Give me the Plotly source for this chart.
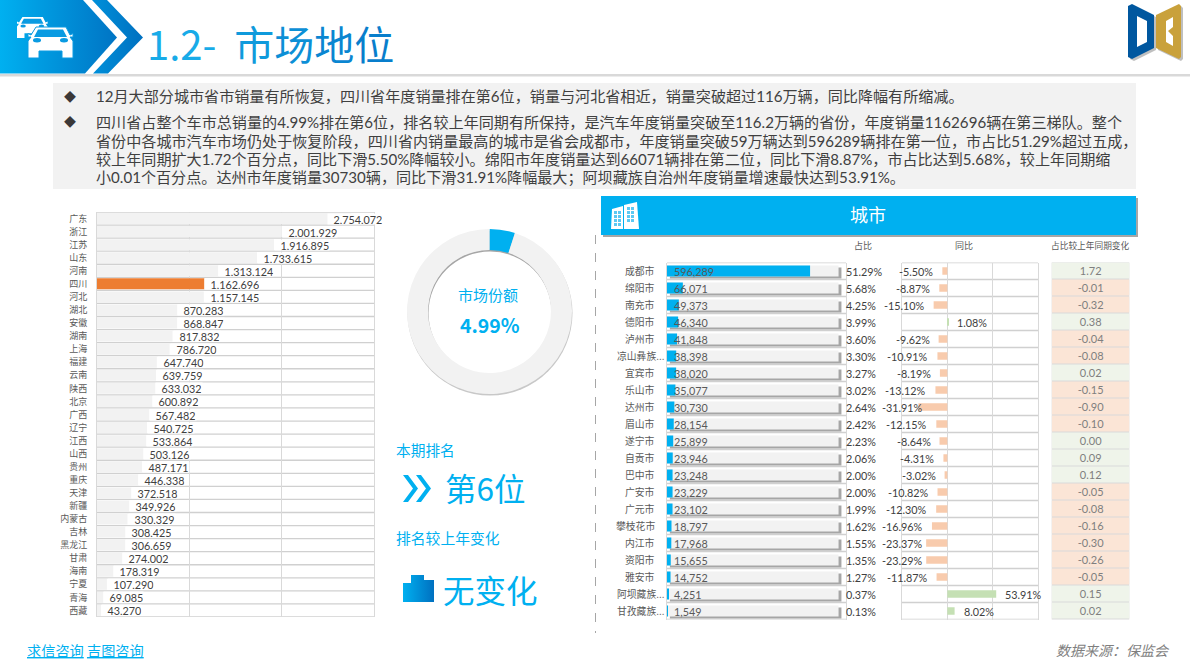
#!/usr/bin/python3

import plotly.graph_objects as go

FONT = 'Noto Sans CJK SC'
NUM_FONT = 'Lato, Noto Sans CJK SC'
BLUE = '#00B0F0'
GRID = '#D9D9D9'
TEXT = '#404040'
W, H = 1190, 669

# Provinces
provinces = ['广东', '浙江', '江苏', '山东', '河南', '四川', '河北', '湖北', '安徽', '湖南', '上海',
             '福建', '云南', '陕西', '北京', '广西', '辽宁', '江西', '山西', '贵州', '重庆', '天津',
             '新疆', '内蒙古', '吉林', '黑龙江', '甘肃', '海南', '宁夏', '青海', '西藏']
province_sales = [2754072, 2001929, 1916895, 1733615, 1313124, 1162696, 1157145, 870283, 868847,
                  817832, 786720, 647740, 639759, 633032, 600892, 567482, 540725, 533864, 503126,
                  487171, 446338, 372518, 349926, 330329, 308425, 306659, 274002, 178319, 107290,
                  69085, 43270]

# Cities
cities = ['成都市', '绵阳市', '南充市', '德阳市', '泸州市', '凉山彝族...', '宜宾市', '乐山市', '达州市',
          '眉山市', '遂宁市', '自贡市', '巴中市', '广安市', '广元市', '攀枝花市', '内江市', '资阳市',
          '雅安市', '阿坝藏族...', '甘孜藏族...']
city_sales = [596289, 66071, 49373, 46340, 41848, 38398, 38020, 35077, 30730, 28154, 25899, 23946,
              23248, 23229, 23102, 18797, 17968, 15655, 14752, 4251, 1549]
city_share = [51.29, 5.68, 4.25, 3.99, 3.60, 3.30, 3.27, 3.02, 2.64, 2.42, 2.23, 2.06, 2.00, 2.00,
              1.99, 1.62, 1.55, 1.35, 1.27, 0.37, 0.13]
city_yoy = [-5.50, -8.87, -15.10, 1.08, -9.62, -10.91, -8.19, -13.12, -31.91, -12.15, -8.64, -4.31,
            -3.02, -10.82, -12.30, -16.96, -23.37, -23.29, -11.87, 53.91, 8.02]
city_delta = [1.72, -0.01, -0.32, 0.38, -0.04, -0.08, 0.02, -0.15, -0.90, -0.10, 0.00, 0.09, 0.12,
              -0.05, -0.08, -0.16, -0.30, -0.26, -0.05, 0.15, 0.02]
BAR_TRACK = 715000

market_labels = ['四川', '其他']
market_share = [4.99, 95.01]

intro = ['12月大部分城市省市销量有所恢复，四川省年度销量排在第6位，销量与河北省相近，销量突破超过116万辆，同比降幅有所缩减。',
         '四川省占整个车市总销量的4.99%排在第6位，排名较上年同期有所保持，是汽车年度销量突破至116.2万辆的省份，年度销量1162696辆在第三梯队。整个',
         '省份中各城市汽车市场仍处于恢复阶段，四川省内销量最高的城市是省会成都市，年度销量突破59万辆达到596289辆排在第一位，市占比51.29%超过五成，',
         '较上年同期扩大1.72个百分点，同比下滑5.50%降幅较小。绵阳市年度销量达到66071辆排在第二位，同比下滑8.87%，市占比达到5.68%，较上年同期缩',
         '小0.01个百分点。达州市年度销量30730辆，同比下滑31.91%降幅最大；阿坝藏族自治州年度销量增速最快达到53.91%。']
intro_y = [96, 122, 140.5, 158.5, 177]

annotations = []
shapes = []


def label(x, y, text, size, color=TEXT, anchor='left', xref='x', yref='y', family=FONT, **kw):
    annotations.append(dict(x=x, y=y, xref=xref, yref=yref, text=text, showarrow=False,
                            xanchor=anchor, yanchor='middle', align=anchor,
                            font=dict(family=family, size=size, color=color), **kw))


def rect(x0, y0, x1, y1, color, layer='below'):
    shapes.append(dict(type='rect', xref='x', yref='y', x0=x0, y0=y0, x1=x1, y1=y1,
                       fillcolor=color, line_width=0, layer=layer))


def circle(cx, cy, r, color):
    shapes.append(dict(type='circle', xref='x', yref='y', x0=cx - r, y0=cy - r, x1=cx + r, y1=cy + r,
                       fillcolor=color, line_width=0, layer='below'))


def poly(points, color, layer='above', line=None):
    path = 'M' + ' L'.join(f'{x},{y}' for x, y in points) + ' Z'
    shapes.append(dict(type='path', xref='x', yref='y', path=path, fillcolor=color, layer=layer,
                       line=dict(color=line or color, width=1 if line else 0)))


def row_lines(names, xname, yname):
    # one rule on every row boundary
    for i in range(len(names) + 1):
        shapes.append(dict(type='line', xref=f'{xname} domain', yref=yname, x0=0, x1=1, y0=i - 0.5, y1=i - 0.5,
                           line=dict(color='#D0D0D0', width=1.3), layer='below'))


def gradient(points, start, end):
    xs, ys = zip(*(points + points[:1]))
    return go.Scatter(x=xs, y=ys, mode='lines', fill='toself', line=dict(width=0), hoverinfo='skip',
                      fillgradient=dict(type='horizontal', colorscale=[[0, start], [1, end]]),
                      showlegend=False, xaxis='x', yaxis='y')


def car(x, y, s, outline=None):
    body = [(8, 0), (38, 0), (42, 8), (45, 6.5), (45, 10), (42, 10), (45, 14), (45, 31), (34, 31), (34, 24),
            (11, 24), (11, 31), (0, 31), (0, 14), (3, 10), (0, 10), (0, 6.5), (3, 8)]
    poly([(x + a * s, y + b * s) for a, b in body], 'white', line=outline)
    glass = [(10, 2.5), (35, 2.5), (39, 10), (6, 10)]
    poly([(x + a * s, y + b * s) for a, b in glass], '#0A9BE2')
    for hx in (9, 36):
        shapes.append(dict(type='circle', xref='x', yref='y', layer='above', line_width=0, fillcolor='#0A9BE2',
                           x0=x + (hx - 4) * s, x1=x + (hx + 4) * s, y0=y + 11 * s, y1=y + 15.5 * s))


# Banner and other page furniture
banner = [gradient([(0, 0), (83, 0), (117, 37.5), (85, 73.5), (0, 73.5)], '#00B0F0', '#0074C4'),
          gradient([(92, 0), (107, 0), (143, 37.5), (108, 73.5), (93, 73.5), (127, 37.5)], '#0090DA', '#0070C0'),
          gradient([(403, 583), (411, 583), (411, 575), (424, 575), (424, 580), (434, 580), (434, 602), (403, 602)],
                   '#00B0F0', '#0070C0')]
rect(0, 74, W, 76.5, GRID)
rect(53, 83, 1136, 189, '#F2F2F2')
car(17, 17, 0.68)
car(28, 27, 1, outline='#0A9BE2')

# Logo
poly([(1130, 8), (1134, 6), (1156, 17), (1156, 50), (1134, 61), (1130, 59)], '#BFBFBF', 'below')
poly([(1128, 6), (1132, 4), (1154, 15), (1154, 48), (1132, 59), (1128, 57)], '#00579F', 'below')
poly([(1137, 16), (1147, 21), (1147, 42), (1137, 47)], 'white', 'below')
poly([(1158, 17), (1181, 6), (1183, 8), (1183, 59), (1181, 61), (1158, 50)], '#BFBFBF', 'below')
poly([(1156, 15), (1179, 4), (1181, 6), (1181, 57), (1179, 59), (1156, 48)], '#C9A13B', 'below')
poly([(1166, 21), (1173, 17), (1173, 27), (1168, 31), (1173, 36), (1173, 46), (1166, 42)], 'white', 'below')

# City header
rect(603, 198, 1138, 237, '#A6A6A6')
rect(601, 196, 1136, 235, BLUE)
poly([(611, 229), (612, 209), (623, 206), (623, 229)], 'white')
poly([(624, 229), (624, 205), (637, 202), (639, 229)], 'white')
for col in (614, 618):
    for row in (211, 215, 219, 223):
        rect(col, row, col + 3, row + 3, '#5CC9F3', 'above')
for col in (627, 631):
    for row in (207, 211, 215, 219):
        rect(col, row, col + 3, row + 3, '#5CC9F3', 'above')
label(868, 214, '城市', 18, 'white', 'center')

# Dashed divider
shapes.append(dict(type='line', xref='x', yref='y', x0=595.5, x1=595.5, y0=235, y1=633, layer='below',
                   line=dict(color='#A6A6A6', width=1, dash='dash')))

# Donut shadows, hole
circle(490, 313, 82.5, '#C8C8C8')
circle(489.5, 311.5, 62, '#A6A6A6')
circle(490, 313, 61.5, 'white')

# Rank icons
for x0 in (403, 416):
    poly([(x0, 475), (x0 + 5, 475), (x0 + 15, 488.5), (x0 + 5, 502), (x0, 502), (x0 + 10, 488.5)], BLUE)
rect(1051.7, 262.5, 1129.3, 619.5, GRID)

# Texts
label(145, 43, '<span style="color:#18ABE8">1.2-\u00a0\u00a0</span><span style="color:#0F9ADC">市</span>'
      '<span style="color:#0C8FD6">场</span><span style="color:#0A86D1">地</span>'
      '<span style="color:#087ECC">位</span>', 40)
for x, y in zip([70, 70], [96, 121]):
    label(x, y, '◆', 12, '#3B3838', 'center')
for y, line in zip(intro_y, intro):
    label(94, y, line, 15.1, family=NUM_FONT)
label(488, 294.5, '市场份额', 15, BLUE, 'center')
label(490, 324.5, '<b>4.99%</b>', 19.5, BLUE, 'center')
label(393.5, 449, '本期排名', 14.7, BLUE)
label(443, 487, '第6位', 31.5, BLUE)
label(393.5, 537, '排名较上年变化', 14.8, BLUE)
label(441, 589, '无变化', 31.5, BLUE)
label(25, 650, '<u>求信咨询</u> <u>吉图咨询</u>', 14.2, BLUE)
label(1172, 650, '<i>数据来源：保监会</i>', 14, '#7F7F7F', 'right')
label(863, 245, '占比', 9, '#595959', 'center')
label(964, 245, '同比', 9, '#595959', 'center')
label(1090, 245, '占比较上年同期变化', 8.7, '#595959', 'center')

# Province labels
for name, value in zip(provinces, province_sales):
    shift = -24 if value == max(province_sales) else 0
    label(value, name, f'\u00a0\u00a0{value:,}', 10.8, TEXT, xref='x2', yref='y2', xshift=shift,
          bgcolor='white', height=10, borderpad=0, family=NUM_FONT)

# City labels
for name, sales, share, yoy in zip(cities, city_sales, city_share, city_yoy):
    if name.endswith('...'):
        label(0, name, name, 9.8, '#595959', xref='x3', yref='y3', xshift=-52)
    else:
        label(0, name, name, 9.8, '#595959', 'right', xref='x3', yref='y3', xshift=-10)
    label(0, name, f'{sales:,}', 10.8, '#595959', xref='x3', yref='y3', xshift=5, family=NUM_FONT)
    label(1, name, f'{share:.2f}%', 10.8, TEXT, xref='x3 domain', yref='y3', xshift=-2, family=NUM_FONT)
    text = f'{yoy:.2f}%'
    if yoy < 0:
        label(max(yoy, -17), name, text, 10.8, TEXT, 'right', xref='x4', yref='y4', xshift=-7, family=NUM_FONT)
    else:
        label(yoy, name, text, 10.8, TEXT, xref='x4', yref='y4', xshift=7, family=NUM_FONT)

row_lines(provinces, 'x2', 'y2')
row_lines(cities, 'x3', 'y3')
row_lines(cities, 'x4', 'y4')

province_colors = ['#ED7D31' if name == '四川' else '#F2F2F2' for name in provinces]
track = [BAR_TRACK] * len(cities)
decor = go.Scatter(x=[0], y=[0], mode='none', hoverinfo='skip', showlegend=False, xaxis='x', yaxis='y')

data = [decor] + banner + [
    go.Bar(x=province_sales, y=provinces, orientation='h', width=0.84, marker=dict(color=province_colors, line_width=0),
           xaxis='x2', yaxis='y2', showlegend=False),
    go.Bar(x=track, y=cities, base=12000, orientation='h', width=0.64, offset=-0.2, xaxis='x3', yaxis='y3',
           marker=dict(color='#A6A6A6', line_width=0), showlegend=False, hoverinfo='skip'),
    go.Bar(x=track, y=cities, orientation='h', width=0.64, xaxis='x3', yaxis='y3',
           marker=dict(color='#F2F2F2', line_width=0), showlegend=False, hoverinfo='skip'),
    go.Bar(x=city_sales, y=cities, orientation='h', width=0.64, xaxis='x3', yaxis='y3',
           marker=dict(color=BLUE, line_width=0), showlegend=False),
    go.Bar(x=city_yoy, y=cities, orientation='h', width=0.45, xaxis='x4', yaxis='y4', showlegend=False,
           marker=dict(color=['#F8CBAD' if v < 0 else '#C5E0B4' for v in city_yoy], line_width=0)),
    go.Heatmap(x=['占比较上年同期变化'], y=cities, z=[[1 if v >= 0 else 0] for v in city_delta],
               text=[[f'{v:.2f}'] for v in city_delta], texttemplate='%{text}', ygap=1,
               textfont=dict(family=NUM_FONT, size=11, color='#7F7F7F'), zmin=0, zmax=1, showscale=False,
               colorscale=[[0, '#FBE5D6'], [0.5, '#FBE5D6'], [0.5, '#EFF4EA'], [1, '#EFF4EA']],
               xaxis='x5', yaxis='y5'),
    go.Pie(labels=market_labels, values=market_share, hole=0.745, sort=False, direction='clockwise', rotation=0,
           textinfo='none', marker=dict(colors=[BLUE, '#F2F2F2'], line_width=0), showlegend=False,
           domain=dict(x=[407 / W, 572 / W], y=[1 - 394 / H, 1 - 229 / H])),
]


def domain(a, b, size):
    return [a / size, b / size]


def yaxis_for(names, top, bottom):
    return dict(domain=[1 - bottom / H, 1 - top / H], type='category', categoryorder='array', categoryarray=names,
                range=[len(names) - 0.5, -0.5], showgrid=False, ticks='', showline=True, mirror=True,
                linecolor=GRID, zeroline=False)


y2 = yaxis_for(provinces, 212, 617)
y2.update(anchor='x2', tickfont=dict(family=FONT, size=9, color='#595959'), ticklabelstandoff=7)
y3 = yaxis_for(cities, 262.5, 619.5)
y3.update(anchor='x3', showticklabels=False)
y4 = yaxis_for(cities, 262.5, 619.5)
y4.update(anchor='x4', showticklabels=False)
y5 = yaxis_for(cities, 262.5, 619.5)
y5.update(anchor='x5', showticklabels=False, showline=False)

layout = go.Layout(
    width=W, height=H, margin=dict(l=0, r=0, t=0, b=0), autosize=False,
    paper_bgcolor='white', plot_bgcolor='rgba(0,0,0,0)', barmode='overlay',
    font=dict(family=FONT, color=TEXT), showlegend=False,
    annotations=annotations, shapes=shapes,
    xaxis=dict(domain=[0, 1], range=[0, W], visible=False, anchor='y'),
    yaxis=dict(domain=[0, 1], range=[H, 0], visible=False, anchor='x'),
    xaxis2=dict(domain=domain(97, 374, W), range=[0, 3000000], dtick=1000000, showticklabels=False, anchor='y2',
                showgrid=True, gridcolor=GRID, gridwidth=1.3, zeroline=False),
    yaxis2=y2,
    xaxis3=dict(domain=domain(667, 846, W), range=[0, 746000], showticklabels=False, showgrid=False, anchor='y3',
                zeroline=False),
    yaxis3=y3,
    xaxis4=dict(domain=domain(902, 1038, W), range=[-50, 100], dtick=50, showticklabels=False, anchor='y4',
                showgrid=True, gridcolor=GRID, gridwidth=1.3, zeroline=False),
    yaxis4=y4,
    xaxis5=dict(domain=domain(1051.7, 1129.3, W), showticklabels=False, showgrid=False, anchor='y5', zeroline=False),
    yaxis5=y5,
)

fig = go.Figure(data=data, layout=layout)
fig.write_html('out.html', config=dict(displayModeBar=False),
               post_script="document.body.style.margin='0';document.body.style.overflow='hidden';")
